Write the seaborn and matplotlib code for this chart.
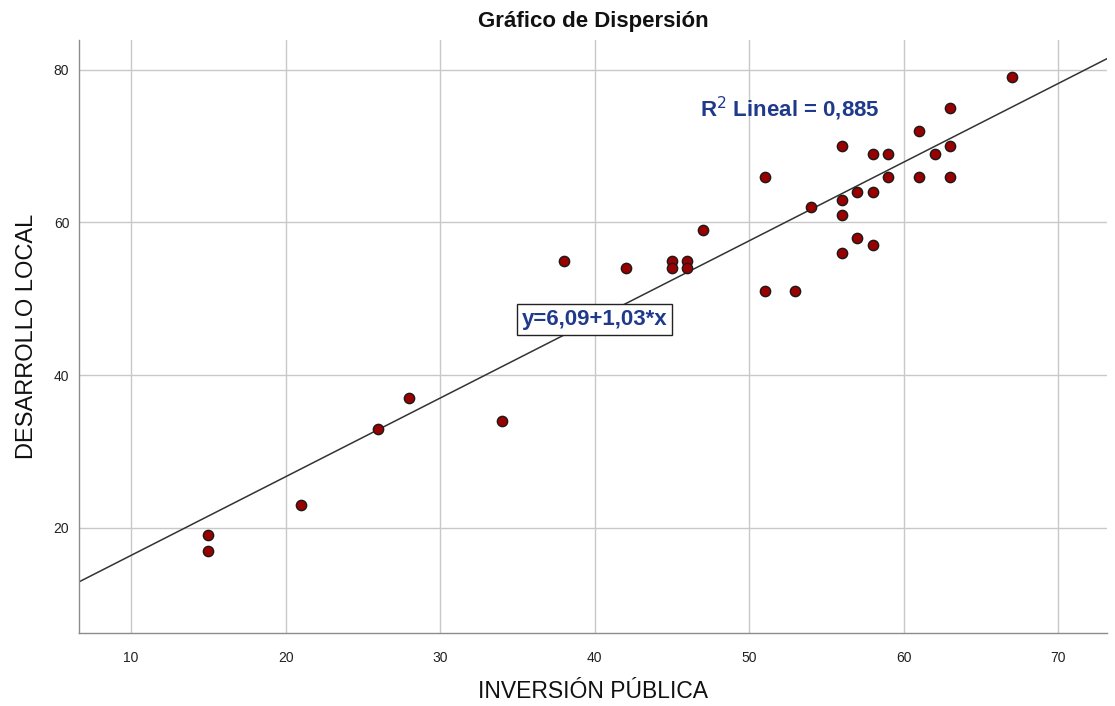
import numpy as np
import pandas as pd
import matplotlib
matplotlib.use("Agg")
import matplotlib.pyplot as plt
import seaborn as sns

# Observations: public investment vs. local development scores
inversion = [15, 15, 21, 26, 28, 34, 38, 42, 45, 45, 46, 46, 47, 51, 51, 53, 54,
             56, 56, 56, 56, 57, 57, 58, 58, 58, 59, 59, 61, 61, 62, 63, 63, 63, 67]
desarrollo = [19, 17, 23, 33, 37, 34, 55, 54, 55, 54, 55, 54, 59, 66, 51, 51, 62,
              70, 63, 61, 56, 64, 58, 69, 64, 57, 69, 66, 72, 66, 69, 75, 70, 66, 79]

# Fitted linear model
intercepto = 6.09
pendiente = 1.03
r2 = 0.885

x_ticks = [10, 20, 30, 40, 50, 60, 70]
y_ticks = [20, 40, 60, 80]

df = pd.DataFrame({"INVERSIÓN PÚBLICA": inversion, "DESARROLLO LOCAL": desarrollo})

sns.set_theme(style="whitegrid")
plt.rcParams["font.family"] = ["Liberation Sans", "DejaVu Sans"]

fig = plt.figure(figsize=(11.15, 7.06), dpi=100)
ax = fig.add_axes([0.0709, 0.1034, 0.9220, 0.8400])

xlim = (6.63, 73.17)
ylim = (6.22, 83.9)
ax.set_xlim(*xlim)
ax.set_ylim(*ylim)

# Regression line across the full x range
xs = np.array(xlim)
ax.plot(xs, intercepto + pendiente * xs, color="#333333", lw=1.1, zorder=2)

sns.scatterplot(data=df, x="INVERSIÓN PÚBLICA", y="DESARROLLO LOCAL", ax=ax,
                color="#990000", edgecolor="#1a1a1a", linewidth=1.0, s=55,
                zorder=3)

ax.set_xticks(x_ticks)
ax.set_yticks(y_ticks)
ax.grid(True, color="#c8c8c8", lw=1.0)
ax.set_axisbelow(True)
ax.tick_params(axis="both", length=0, labelsize=10, colors="#222222")
ax.tick_params(axis="x", pad=13)
ax.tick_params(axis="y", pad=7)

for side in ["top", "right"]:
    ax.spines[side].set_visible(False)
for side in ["left", "bottom"]:
    ax.spines[side].set_visible(True)
    ax.spines[side].set_color("#8c8c8c")
    ax.spines[side].set_linewidth(1.0)

ax.set_xlabel("INVERSIÓN PÚBLICA", fontsize=16.5, color="#111111", labelpad=11)
ax.set_ylabel("DESARROLLO LOCAL", fontsize=17, color="#111111", labelpad=11)
ax.set_title("Gráfico de Dispersión", fontsize=16, fontweight="bold",
             color="#111111", pad=9)

azul = "#1f3a8a"
ax.text(46.8, 74.9, f"R$^2$ Lineal = {str(r2).replace('.', ',')}", fontsize=16,
        fontweight="bold", color=azul, ha="left", va="center")
eq = f"y={intercepto:.2f}+{pendiente:.2f}*x".replace(".", ",")
ax.text(40.0, 47.3, eq, fontsize=16, fontweight="bold", color=azul,
        ha="center", va="center",
        bbox=dict(boxstyle="square,pad=0.22", facecolor="white",
                  edgecolor="#222222", lw=1.0), zorder=4)

fig.savefig("out.png", dpi=100)
